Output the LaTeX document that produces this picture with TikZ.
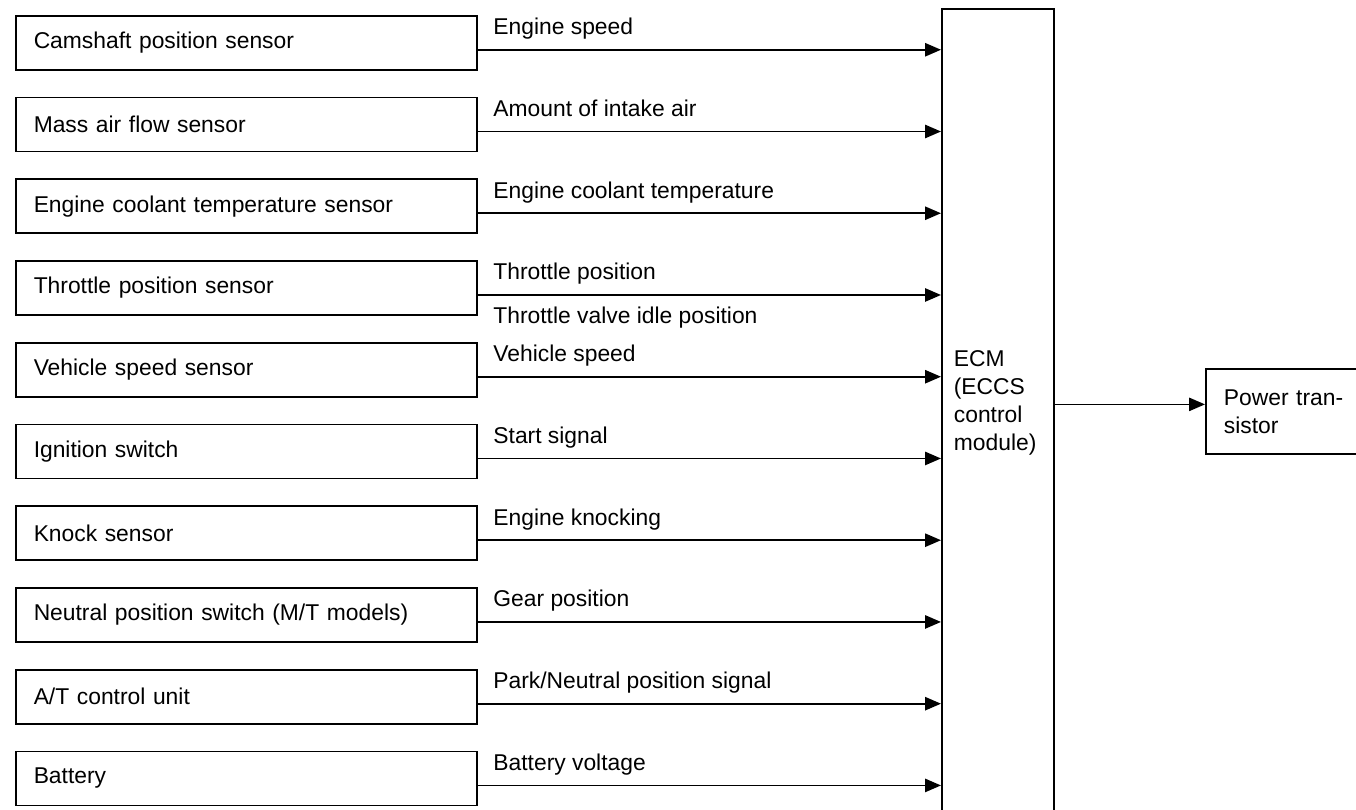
\documentclass[tikz,border=0pt]{standalone}
\usepackage{fontspec}
\setmainfont{Liberation Sans}
\usetikzlibrary{arrows.meta, positioning, calc, matrix}

\begin{document}
\begin{tikzpicture}[x=0.02cm, y=-0.02cm, font=\fontsize{13}{16}\selectfont, line width=1pt,
        box/.style={draw, minimum height=1.08cm, text width=8.5cm, inner xsep=0.36cm, inner ysep=0pt, align=left},
        sig/.style={-{Triangle[length=9pt, width=7.5pt]}},
        lbl/.style={anchor=base west, xshift=0.3cm, yshift=0.3cm, inner sep=0pt},
        lblb/.style={anchor=base west, xshift=0.3cm, yshift=-0.58cm, inner sep=0pt}
      ]
        \useasboundingbox (0,0) rectangle (1356,809);
        % sensors and switches (left column)
        \matrix[matrix of nodes, ampersand replacement=\&, row sep=0.52cm, anchor=north west,
          inner sep=0pt, nodes={box}
        ] (m) at (14,14) {
          Camshaft position sensor \\
          Mass air flow sensor \\
          Engine coolant temperature sensor \\
          Throttle position sensor \\
          Vehicle speed sensor \\
          Ignition switch \\
          Knock sensor \\
          Neutral position switch (M/T models) \\
          A/T control unit \\
          Battery \\
        };
        % control module (runs off the bottom edge)
        \node[draw, anchor=north west, minimum width=2.24cm, minimum height=16.44cm, inner sep=0pt] (ecm) at (941,8) {};
        \node[anchor=west, align=left, inner sep=0pt] (ecmtext) at (953,403) {ECM\\(ECCS\\control\\module)};
        % output (runs off the right edge)
        \node[draw, anchor=north west, minimum height=1.7cm, text width=3.3cm, inner xsep=0.36cm, align=left] (pt) at (1205,368) {Power tran-\\sistor};
        % input signals
        \draw[sig] ($(m-1-1.east)+(0,7)$) coordinate (e1) -- (e1 -| ecm.west) node[lbl, pos=0] {Engine speed};
        \draw[sig] ($(m-2-1.east)+(0,7)$) coordinate (e2) -- (e2 -| ecm.west) node[lbl, pos=0] {Amount of intake air};
        \draw[sig] ($(m-3-1.east)+(0,7)$) coordinate (e3) -- (e3 -| ecm.west) node[lbl, pos=0] {Engine coolant temperature};
        \draw[sig] ($(m-4-1.east)+(0,7)$) coordinate (e4) -- (e4 -| ecm.west) node[lbl, pos=0] {Throttle position}
          node[lblb, pos=0] {Throttle valve idle position};
        \draw[sig] ($(m-5-1.east)+(0,7)$) coordinate (e5) -- (e5 -| ecm.west) node[lbl, pos=0] {Vehicle speed};
        \draw[sig] ($(m-6-1.east)+(0,7)$) coordinate (e6) -- (e6 -| ecm.west) node[lbl, pos=0] {Start signal};
        \draw[sig] ($(m-7-1.east)+(0,7)$) coordinate (e7) -- (e7 -| ecm.west) node[lbl, pos=0] {Engine knocking};
        \draw[sig] ($(m-8-1.east)+(0,7)$) coordinate (e8) -- (e8 -| ecm.west) node[lbl, pos=0] {Gear position};
        \draw[sig] ($(m-9-1.east)+(0,7)$) coordinate (e9) -- (e9 -| ecm.west) node[lbl, pos=0] {Park/Neutral position signal};
        \draw[sig] ($(m-10-1.east)+(0,7)$) coordinate (e10) -- (e10 -| ecm.west) node[lbl, pos=0] {Battery voltage};
        % output signal
        \path ($(pt.west)+(0,-7)$) coordinate (ptin);
        \draw[sig] (ptin -| ecm.east) -- (ptin);
      \end{tikzpicture}
\end{document}
